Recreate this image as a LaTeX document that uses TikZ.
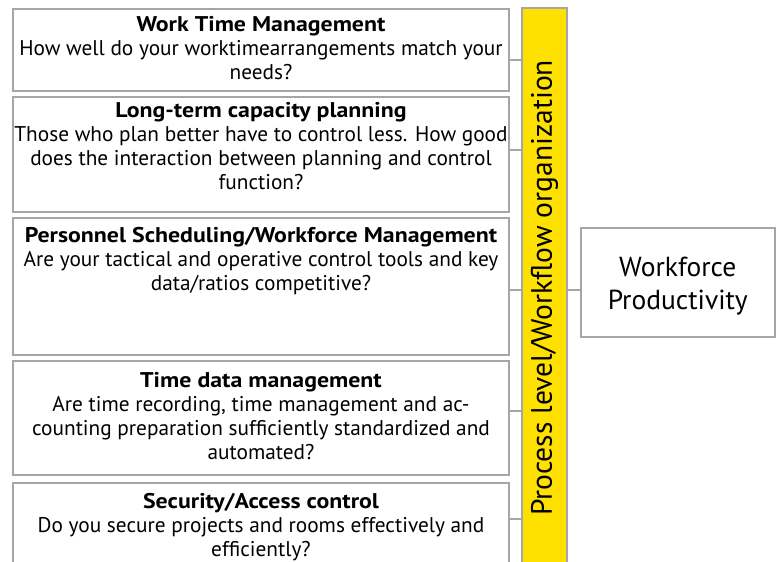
\documentclass[tikz,border=0pt]{standalone}
\usepackage{fontspec}
\setmainfont{PT Sans}
\newfontfamily\headfont{PT Sans}[FakeStretch=1.12]
\usetikzlibrary{positioning,calc}
\definecolor{framegray}{RGB}{166,166,166}
\definecolor{baryellow}{RGB}{255,225,0}
\newcommand{\hd}[1]{{\headfont\bfseries #1}}

\begin{document}
\begin{tikzpicture}[
	x = 1pt, y = 1pt,
	every node/.style = {inner sep=0pt, outer sep=0pt},
	panel/.style = {draw=framegray, line width=2pt, fill=white, minimum width=496pt},
	paneltext/.style = {align=center, font=\fontsize{21.3}{24}\selectfont},
	link/.style = {draw=framegray, line width=2pt}
	]
	\useasboundingbox (0,0) rectangle (777,-562);
	\clip (0,0) rectangle (777,-562);

	% left column
	\node[panel, minimum height=82pt] (wtm) at (261,-50) {};
	\node[panel, minimum height=115pt] (ltc) at (261,-154.5) {};
	\node[panel, minimum height=137pt] (psw) at (261,-286.5) {};
	\node[panel, minimum height=114pt] (tdm) at (261,-418) {};
	\node[panel, minimum height=117pt] (sac) at (261,-541.5) {};

	\node[paneltext, below=7pt of wtm.north] (wtmtext) {\hd{Work Time Management}\\How well do your worktimearrangements match your\\needs?};
	\node[paneltext, below=5pt of ltc.north] (ltctext) {\hd{Long-term capacity planning}\\Those who plan better have to control less. How good\\does the interaction between planning and control\\function?};
	\node[paneltext, below=9pt of psw.north] (pswtext) {\hd{Personnel Scheduling/Workforce Management}\\Are your tactical and operative control tools and key\\data/ratios competitive?};
	\node[paneltext, below=11pt of tdm.north] (tdmtext) {\hd{Time data management}\\Are time recording, time management and ac-\\counting preparation sufficiently standardized and\\automated?};
	\node[paneltext, below=10pt of sac.north] (sactext) {\hd{Security/Access control}\\Do you secure projects and rooms effectively and\\efficiently?};

	% process bar and result
	\node[draw=framegray, line width=2pt, fill=baryellow, minimum width=45pt, minimum height=560pt] (bar) at (544.5,-288) {};
	\node[rotate=90, font=\fontsize{29.5}{32}\selectfont] (bartext) at (bar.center) {Process level/Workflow organization};
	\node[draw=framegray, line width=2pt, fill=white, minimum width=194.5pt, minimum height=109pt] (wfp) at (677.75,-282.5) {};
	\node[align=center, font=\fontsize{27.5}{33}\selectfont] (wfptext) at ([yshift=-4pt]wfp.center) {Workforce\\Productivity};

	% connectors
	\coordinate (l1) at ([yshift=-10pt]wtm.east);
	\coordinate (l2) at ([yshift=4.5pt]ltc.east);
	\coordinate (l3) at ([yshift=-3.5pt]psw.east);
	\coordinate (l4) at ([yshift=7pt]tdm.east);
	\coordinate (l5) at ([yshift=22.5pt]sac.east);
	\foreach \l in {l1,l2,l3,l4,l5}
		\draw[link] (\l) -- (\l -| bar.west);
	\draw[link] (l3 -| bar.east) -- (l3 -| wfp.west);

\end{tikzpicture}
\end{document}
